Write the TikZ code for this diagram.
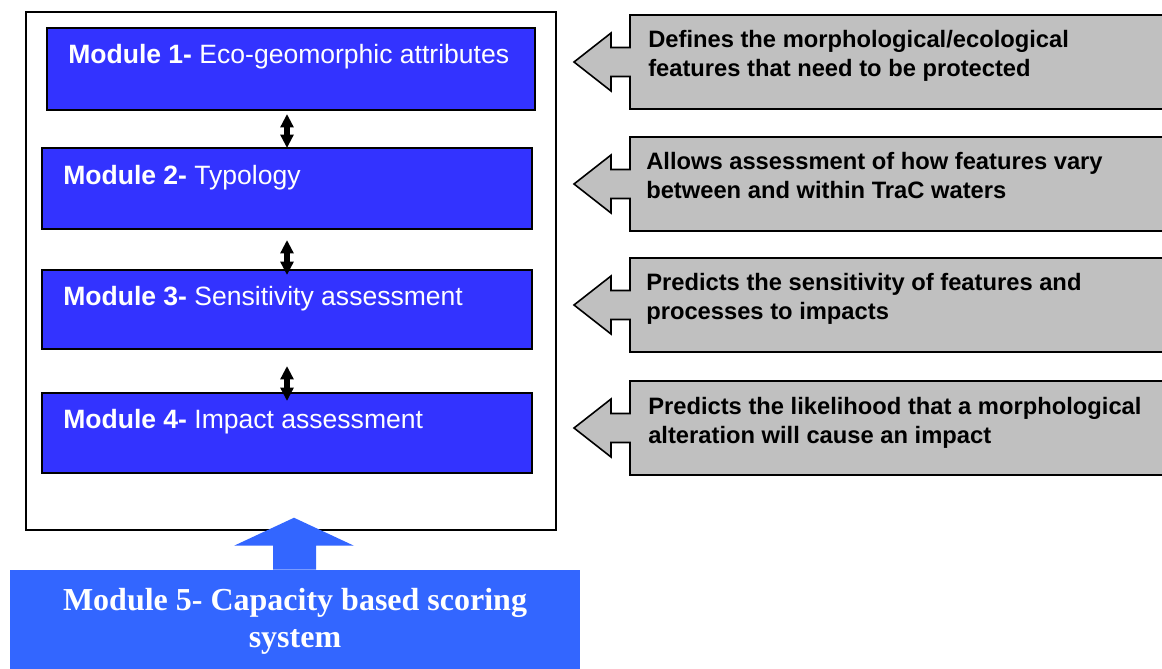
\documentclass[tikz,border=0pt]{standalone}
\usepackage{fontspec}
\setmainfont{Liberation Sans}
\newfontfamily\serifbold{Liberation Serif}
\usetikzlibrary{arrows.meta,calc}

\definecolor{modblue}{RGB}{51,51,255}
\definecolor{capblue}{RGB}{51,102,255}
\definecolor{notegray}{RGB}{192,192,192}

% Grey left-pointing callout whose body starts at x=630 and whose top edge is #1
\newcommand\drawcallout[1]{%
  \filldraw[fill=notegray, draw=black, line width=1.2pt, line join=miter]
    (1175,#1) -- (630,#1) -- (630,#1+32.5) -- (611,#1+32.5) -- (611,#1+18)
    -- (574,#1+47) -- (611,#1+76) -- (611,#1+61.5) -- (630,#1+61.5)
    -- (630,#1+94) -- (1175,#1+94);%
}

\tikzset{
  modbox/.style={draw=black, fill=modblue, line width=1.5pt, inner sep=0pt},
  modtext/.style={anchor=base west, inner sep=0pt, text=white,
    font=\fontsize{19.9pt}{24pt}\selectfont},
  notetext/.style={anchor=base west, inner sep=0pt, align=left,
    font=\fontsize{17.8pt}{21.75pt}\selectfont\bfseries},
  linkarrow/.style={line width=3.8pt, {Triangle[width=9.5pt,length=10pt]}-{Triangle[width=9.5pt,length=10pt]}},
}

\begin{document}
\begin{tikzpicture}[x=0.75pt, y=-0.75pt]
  \useasboundingbox (0,0) rectangle (1162,668);
  \clip (0,0) rectangle (1162,668);

  % outer frame holding modules 1-4
  \node[draw=black, line width=1.5pt, minimum width=397.5pt, minimum height=388.5pt,
        inner sep=0pt] (frame) at (291,271) {};

  % modules 1-4
  \node[modbox, minimum width=366pt,   minimum height=61.5pt]  (m1) at (291,69)    {};
  \node[modbox, minimum width=367.5pt, minimum height=60.75pt] (m2) at (287,188.5) {};
  \node[modbox, minimum width=367.5pt, minimum height=59.25pt] (m3) at (287,309.5) {};
  \node[modbox, minimum width=367.5pt, minimum height=60pt]    (m4) at (287,433)   {};

  \node[modtext] (t1) at (68,63)  {\textbf{Module 1-} Eco-geomorphic attributes};
  \node[modtext] (t2) at (63,184) {\textbf{Module 2-} Typology};
  \node[modtext] (t3) at (63,305) {\textbf{Module 3-} Sensitivity assessment};
  \node[modtext] (t4) at (63,428) {\textbf{Module 4-} Impact assessment};

  % two-way links between consecutive modules
  \draw[linkarrow] ([yshift=-2.25pt]m1.south -| m2.north) -- ([yshift=-0.75pt]m2.north);
  \draw[linkarrow] ([yshift=-7.5pt]m2.south)  -- ([yshift=-4.5pt]m3.north);
  \draw[linkarrow] ([yshift=-12pt]m3.south)   -- ([yshift=-6.75pt]m4.north);

  % module 5 and its block arrow into the frame
  \node[fill=capblue, minimum width=427.5pt, minimum height=82.5pt, inner sep=0pt]
        (m5) at (295,625) {};
  \node[anchor=base, inner sep=0pt, text=white, align=center,
        font=\serifbold\bfseries\fontsize{24pt}{27.75pt}\selectfont] (t5) at (295,647)
        {Module 5- Capacity based scoring\\system};
  \fill[capblue] ([xshift=-16.5pt]m5.north) -- ++(0,-24) -- ++(-39,0)
        -- ++(60,-28) -- ++(60,28) -- ++(-38,0) -- ++(0,24) -- cycle;

  % grey notes
  \drawcallout{15}
  \drawcallout{137}
  \drawcallout{258}
  \drawcallout{381}

  \node[notetext] (n1) at (648,76)
    {Defines the morphological/ecological\\features that need to be protected};
  \node[notetext] (n2) at (646,198)
    {Allows assessment of how features vary\\between and within TraC waters};
  \node[notetext] (n3) at (646,319)
    {Predicts the sensitivity of features and\\processes to impacts};
  \node[notetext] (n4) at (648,443)
    {Predicts the likelihood that a morphological\\alteration will cause an impact};
\end{tikzpicture}
\end{document}
